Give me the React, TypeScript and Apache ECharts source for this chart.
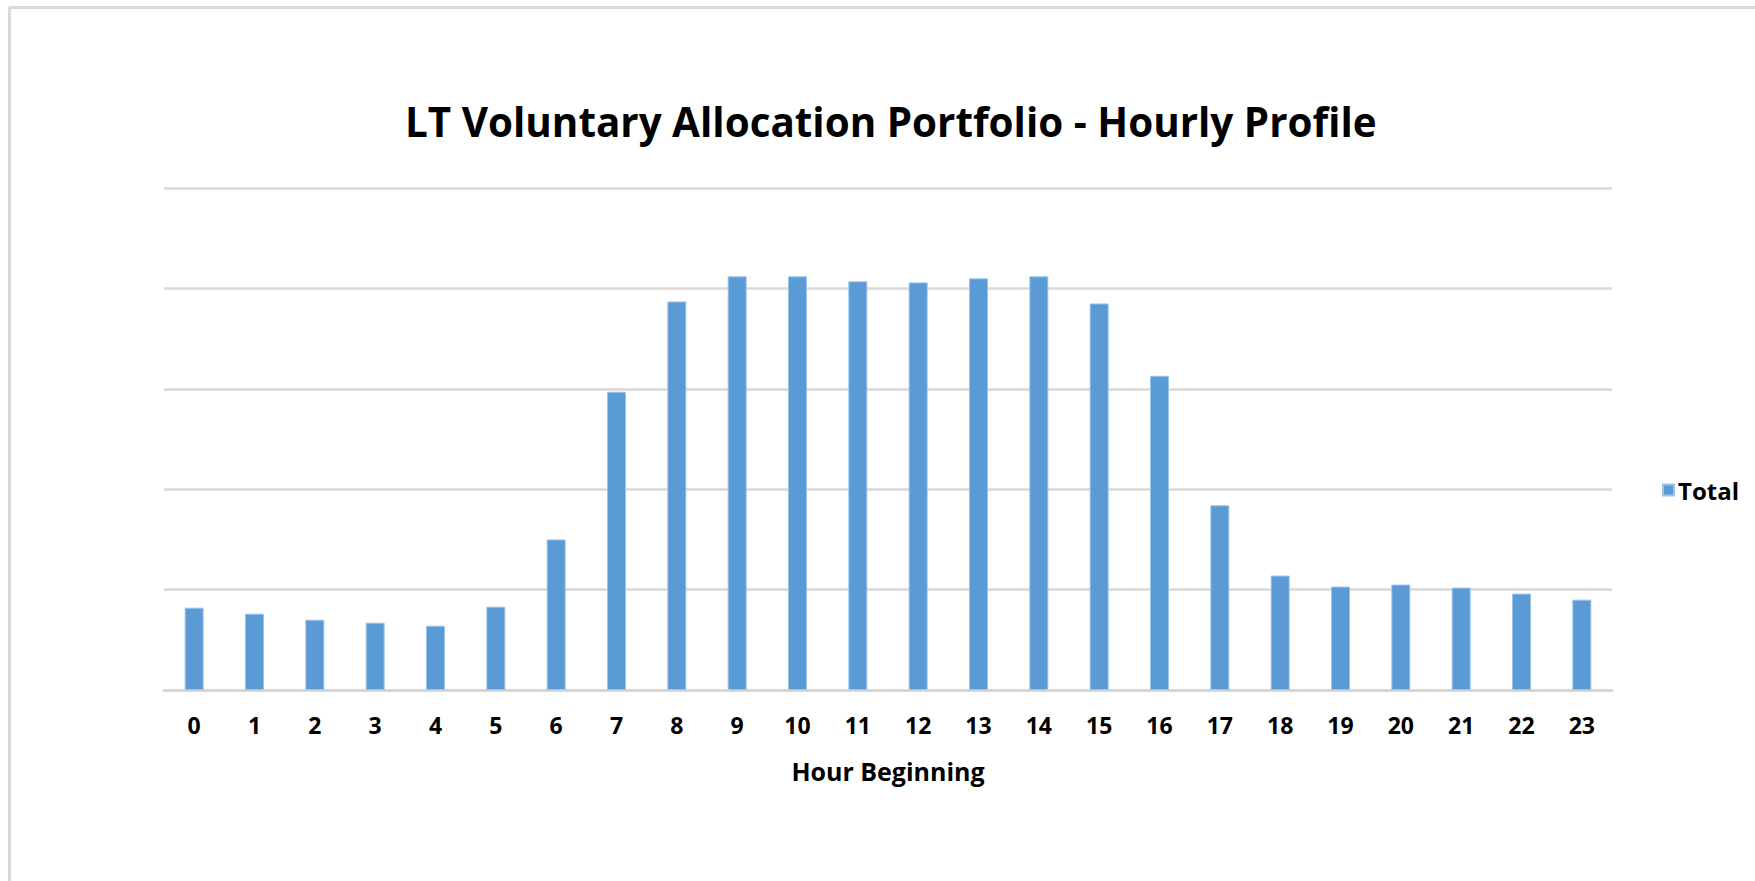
import React, { useEffect, useRef } from "react";
import * as echarts from "echarts";

const hours: string[] = [
  "0", "1", "2", "3", "4", "5", "6", "7", "8", "9", "10", "11",
  "12", "13", "14", "15", "16", "17", "18", "19", "20", "21", "22", "23",
];
const totalValues: number[] = [
  0.82, 0.76, 0.7, 0.67, 0.64, 0.83, 1.5, 2.97, 3.87, 4.12, 4.12, 4.07,
  4.06, 4.1, 4.12, 3.85, 3.13, 1.84, 1.14, 1.03, 1.05, 1.02, 0.96, 0.9,
];
const seriesName = "Total";
const titleText = "LT Voluntary Allocation Portfolio - Hourly Profile";
const xAxisName = "Hour Beginning";

const FONT = "'Open Sans', 'Noto Sans', sans-serif";

export default function App() {
  const ref = useRef<HTMLDivElement>(null);
  useEffect(() => {
    document.body.style.margin = "0";
    if (!ref.current) return;
    const chart = echarts.init(ref.current, undefined, { renderer: "svg" });
    chart.setOption({
      animation: false,
      backgroundColor: "#ffffff",
      title: {
        text: titleText,
        left: 405,
        top: 99,
        padding: 0,
        textStyle: {
          fontFamily: FONT,
          fontWeight: "bold",
          fontSize: 40.4,
          lineHeight: 44,
          color: "#000000",
        },
      },
      legend: {
        orient: "vertical",
        left: 1662,
        top: 477,
        padding: 0,
        itemWidth: 11,
        itemHeight: 11,
        itemGap: 4,
        icon: "rect",
        textStyle: {
          fontFamily: FONT,
          fontWeight: "bold",
          fontSize: 24,
          lineHeight: 26,
          color: "#000000",
          padding: [0, 0, 0, -1],
        },
        data: [seriesName],
      },
      graphic: [
        {
          type: "line",
          shape: { x1: 9, y1: 7.5, x2: 1755, y2: 7.5 },
          style: { stroke: "#d9d9d9", lineWidth: 3 },
        },
        {
          type: "line",
          shape: { x1: 9.5, y1: 7, x2: 9.5, y2: 881 },
          style: { stroke: "#d9d9d9", lineWidth: 3 },
        },
      ],
      grid: {
        left: 164,
        right: 143,
        top: 188,
        bottom: 191,
        containLabel: false,
      },
      xAxis: {
        type: "category",
        data: hours,
        name: xAxisName,
        nameLocation: "middle",
        nameGap: 68,
        nameTextStyle: {
          fontFamily: FONT,
          fontWeight: "bold",
          fontSize: 25,
          color: "#000000",
        },
        axisLine: { show: true, lineStyle: { color: "#d4d4d4", width: 2.5 } },
        axisTick: { show: false },
        axisLabel: {
          margin: 23,
          fontFamily: FONT,
          fontWeight: "bold",
          fontSize: 23,
          color: "#000000",
        },
      },
      yAxis: {
        type: "value",
        min: 0,
        max: 5,
        interval: 1,
        axisLabel: { show: false },
        axisLine: { show: false },
        axisTick: { show: false },
        splitLine: { show: true, lineStyle: { color: "#d9d9d9", width: 2.5 } },
      },
      series: [
        {
          name: seriesName,
          type: "bar",
          data: totalValues,
          barWidth: 19,
          itemStyle: {
            color: "#5b9bd5",
            borderColor: "#9cc3e8",
            borderWidth: 1,
          },
        },
      ],
    });
    return () => chart.dispose();
  }, []);
  return (
    <div
      ref={ref}
      style={{ position: "absolute", left: 0, top: 0, width: 1755, height: 881 }}
    />
  );
}
